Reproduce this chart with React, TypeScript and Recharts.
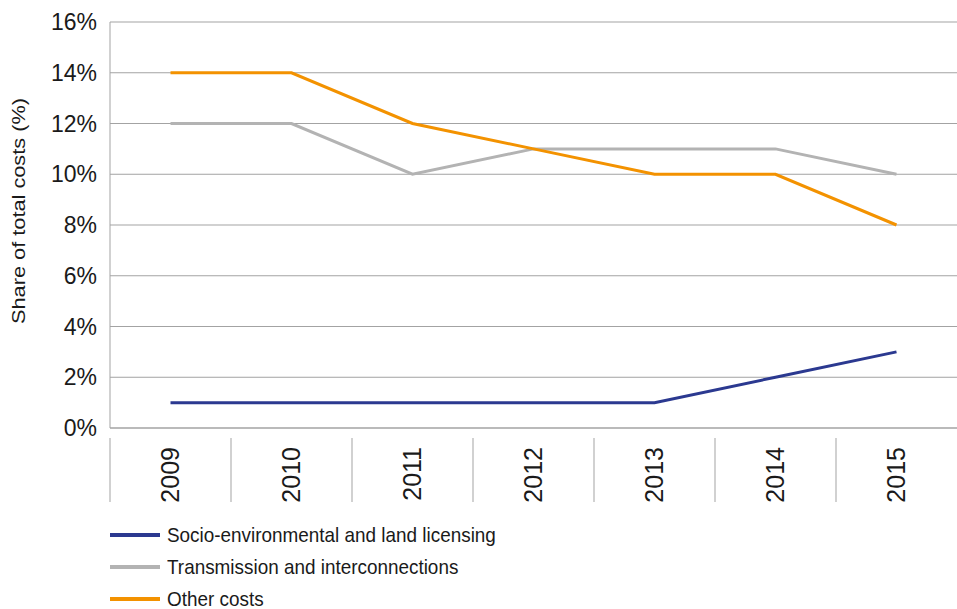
import React from "react";
import { CartesianGrid, Legend, Line, LineChart, XAxis, YAxis } from "recharts";

const years = ["2009", "2010", "2011", "2012", "2013", "2014", "2015"];
const socioEnvironmental = [1, 1, 1, 1, 1, 2, 3];
const transmission = [12, 12, 10, 11, 11, 11, 10];
const otherCosts = [14, 14, 12, 11, 10, 10, 8];
const yTicks = [0, 2, 4, 6, 8, 10, 12, 14, 16];

const series = [
  { key: "socio", name: "Socio-environmental and land licensing", color: "#2B3990" },
  { key: "transmission", name: "Transmission and interconnections", color: "#B3B3B3" },
  { key: "other", name: "Other costs", color: "#F39200" }
];

const data = years.map((year, i) => ({
  year,
  socio: socioEnvironmental[i],
  transmission: transmission[i],
  other: otherCosts[i]
}));

const W = 957;
const H = 609;
const plotLeft = 110;
const band = (W - plotLeft) / years.length;
const gridColor = "#A3A3A3";
const regular = "'Liberation Sans', Arial, sans-serif";

function YearTick({ x, y, payload }: any) {
  return (
    <g>
      <line x1={x - band / 2} x2={x - band / 2} y1={y + 2} y2={y + 66} stroke={gridColor} strokeWidth={1} />
      <text
        x={x + 8}
        y={y + 11}
        transform={`rotate(-90, ${x + 8}, ${y + 11})`}
        textAnchor="end"
        fontFamily={regular}
        fontSize={25}
        fill="#1a1a1a"
      >
        {payload.value}
      </text>
    </g>
  );
}

function LegendBox() {
  return (
    <div style={{ height: 96, fontFamily: regular, fontSize: 21, color: "#1a1a1a" }}>
      {series.map((s) => (
        <div key={s.key} style={{ height: 32, display: "flex", alignItems: "center", whiteSpace: "nowrap" }}>
          <span style={{ marginLeft: 110, width: 50, height: 4, background: s.color, display: "inline-block" }} />
          <span
            style={{
              marginLeft: 7,
              lineHeight: "32px",
              display: "inline-block",
              transform: "scaleX(0.9)",
              transformOrigin: "left center"
            }}
          >
            {s.name}
          </span>
        </div>
      ))}
    </div>
  );
}

export default function App() {
  return (
    <div style={{ position: "absolute", left: 0, top: 0, background: "#fff" }}>
      <LineChart width={W} height={H} data={data} margin={{ top: 22, right: 0, left: 0, bottom: 0 }}>
        <CartesianGrid vertical={false} stroke={gridColor} />
        <XAxis
          dataKey="year"
          interval={0}
          height={85}
          tickLine={false}
          axisLine={{ stroke: gridColor }}
          padding={{ left: band / 2, right: band / 2 }}
          tick={<YearTick />}
        />
        <YAxis
          width={plotLeft}
          domain={[0, 16]}
          ticks={yTicks}
          interval={0}
          tickLine={false}
          tickMargin={7}
          axisLine={{ stroke: gridColor }}
          tickFormatter={(v: number) => `${v}%`}
          tick={{ fontFamily: regular, fontSize: 23, fill: "#1a1a1a" }}
          label={{
            content: () => (
              <text
                x={25}
                y={211}
                transform="rotate(-90, 25, 211)"
                textAnchor="middle"
                fontFamily={regular}
                fontSize={19}
                textLength={226}
                lengthAdjust="spacingAndGlyphs"
                fill="#1a1a1a"
              >
                Share of total costs (%)
              </text>
            )
          }}
        />
        <Legend verticalAlign="bottom" align="left" content={<LegendBox />} wrapperStyle={{ bottom: -6, left: 0 }} />
        {series.map((s) => (
          <Line
            key={s.key}
            dataKey={s.key}
            name={s.name}
            stroke={s.color}
            strokeWidth={3}
            dot={false}
            type="linear"
            isAnimationActive={false}
          />
        ))}
      </LineChart>
    </div>
  );
}
